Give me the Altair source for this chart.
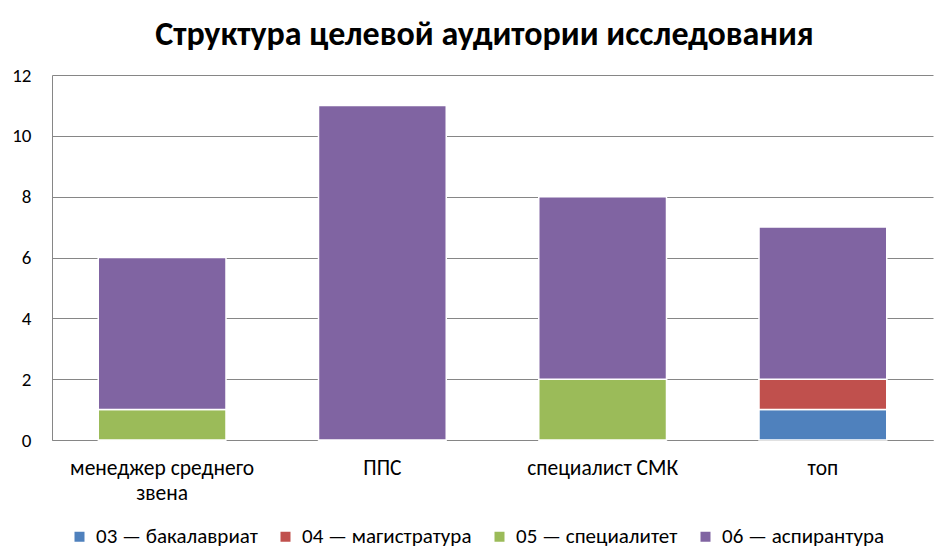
import altair as alt
import pandas as pd

categories = ["менеджер среднего звена", "ППС", "специалист СМК", "топ"]
series = ["03 — бакалавриат", "04 — магистратура", "05 — специалитет", "06 — аспирантура"]
v03 = [0, 0, 0, 1]
v04 = [0, 0, 0, 1]
v05 = [1, 0, 2, 0]
v06 = [5, 11, 6, 5]
colors = ["#4F81BD", "#C0504D", "#9BBB59", "#8064A2"]

rows = []
for s_i, (s, vals) in enumerate(zip(series, [v03, v04, v05, v06])):
    for c, v in zip(categories, vals):
        rows.append({"cat": c, "series": s, "value": v, "order": s_i})
df = pd.DataFrame(rows)

FONT = "Carlito, Calibri, Open Sans, sans-serif"

chart = alt.Chart(df).mark_bar(stroke="white", strokeWidth=1.5).encode(
    x=alt.X("cat:N", sort=categories, title=None,
            scale=alt.Scale(paddingInner=0.42, paddingOuter=0.21),
            axis=alt.Axis(labelAngle=0, ticks=False, domainColor="#868686",
                          labelFontSize=21.5, labelColor="#000", labelPadding=17,
                          labelFont=FONT, labelLimit=300, labelLineHeight=25,
                          labelExpr="datum.value == 'менеджер среднего звена' ? ['менеджер среднего', 'звена'] : datum.value")),
    y=alt.Y("value:Q", stack="zero", title=None,
            scale=alt.Scale(domain=[0, 12], nice=False),
            axis=alt.Axis(values=[0, 2, 4, 6, 8, 10, 12], ticks=False, gridColor="#868686",
                          domainColor="#868686", labelFontSize=19, labelColor="#000",
                          labelPadding=21, labelFont=FONT)),
    color=alt.Color("series:N", sort=series,
                    scale=alt.Scale(domain=series, range=colors),
                    legend=alt.Legend(title=None, orient="none", direction="horizontal",
                                      legendX=17, legendY=451, symbolType="square",
                                      symbolSize=100, symbolStrokeWidth=0, labelFontSize=21,
                                      labelFont=FONT, labelColor="#000", columnPadding=17,
                                      labelOffset=6, padding=0, labelLimit=400)),
    order=alt.Order("order:Q"),
).properties(
    width=881, height=365,
    title=alt.TitleParams("Структура целевой аудитории исследования", fontSize=34,
                          font=FONT, fontWeight="bold", color="#000", offset=14, dx=-8),
    autosize=alt.AutoSizeParams(type="none"),
    padding={"left": 44, "top": 67, "right": 3, "bottom": 109},
).configure_view(stroke=None)

chart.save("out.html", embed_options={"renderer": "svg", "actions": False})
